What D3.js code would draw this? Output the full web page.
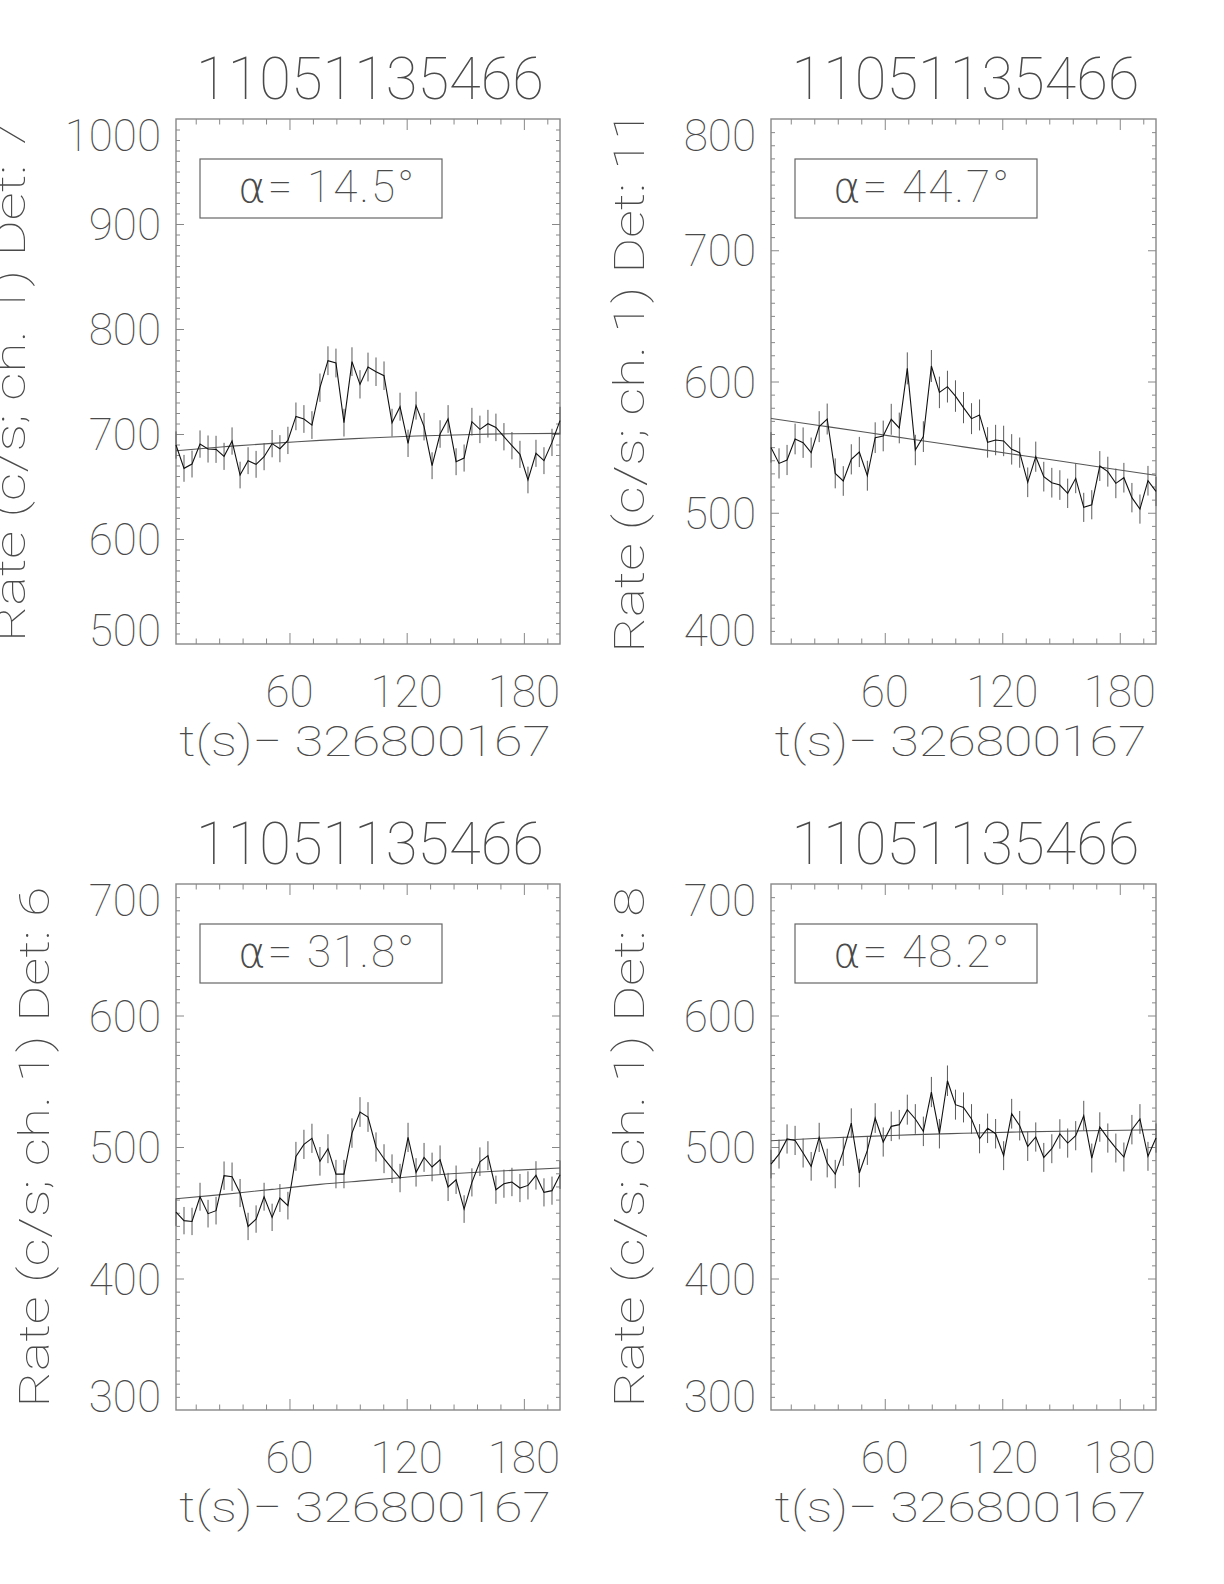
<!DOCTYPE html>
<html>
<head>
<meta charset="utf-8">
<script src="https://cdn.jsdelivr.net/npm/d3@7"></script>
<style>
  html, body { margin: 0; padding: 0; background: #fff; }
  svg { display: block; }
  text { font-family: Roboto, "DejaVu Sans", sans-serif; font-weight: 100; fill: #4a4a4a; }
</style>
</head>
<body>
<script>
// ---------------- DATA ----------------
const titleText = "11051135466";
const xTitleText = "t(s)\u2212 326800167";
const xTickLabels = [60, 120, 180];

// bin times (s), 4.096 s bins
const times = [1.9, 6.0, 10.1, 14.2, 18.3, 22.4, 26.5, 30.6, 34.7, 38.8, 42.9, 47.0, 51.1, 55.1,
  59.2, 63.3, 67.4, 71.5, 75.6, 79.7, 83.8, 87.9, 92.0, 96.1, 100.2, 104.3, 108.4, 112.5, 116.6,
  120.7, 124.8, 128.9, 133.0, 137.1, 141.2, 145.3, 149.4, 153.4, 157.5, 161.6, 165.7, 169.8,
  173.9, 178.0, 182.1, 186.2, 190.3, 194.4, 198.5];
const fitTimes = [1.9, 26.5, 51.1, 75.6, 100.2, 124.8, 149.4, 173.9, 198.5];

// Det 7
const rateDet7 = [689.5, 667.3, 671.4, 690.4, 685.7, 685.4, 678.7, 693.3, 660.9, 674.6, 671.1, 678.4,
  690.8, 686.0, 693.9, 716.8, 714.3, 708.5, 744.1, 769.8, 767.6, 710.8, 768.9, 747.3, 763.8, 759.3,
  755.5, 710.8, 726.0, 691.1, 727.0, 707.0, 669.8, 700.0, 714.3, 673.6, 677.1, 711.7, 704.4, 709.8,
  706.3, 697.4, 688.9, 680.6, 656.2, 681.6, 674.6, 692.0, 712.7];
const errDet7 = [13.0, 12.8, 12.8, 13.0, 12.9, 12.9, 12.9, 13.0, 12.7, 12.8, 12.8, 12.9, 13.0, 12.9,
  13.0, 13.2, 13.2, 13.2, 13.5, 13.7, 13.7, 13.2, 13.7, 13.5, 13.7, 13.6, 13.6, 13.2, 13.3, 13.0,
  13.3, 13.1, 12.8, 13.1, 13.2, 12.8, 12.9, 13.2, 13.1, 13.2, 13.1, 13.0, 13.0, 12.9, 12.7, 12.9,
  12.8, 13.0, 13.2];
const fitDet7 = [684.1, 687.9, 691.1, 693.9, 696.2, 698.1, 699.3, 700.3, 700.6];
const yDomainDet7 = [500, 1000];
const yTicksDet7 = [500, 600, 700, 800, 900, 1000];

// Det 11
const rateDet11 = [549.8, 537.6, 540.2, 556.2, 553.4, 545.8, 565.6, 571.4, 530.0, 524.2, 540.7, 546.3,
  528.2, 557.2, 558.5, 571.2, 564.6, 610.0, 547.8, 558.0, 611.8, 591.7, 596.1, 588.9, 580.1, 571.7,
  574.5, 553.6, 555.4, 554.7, 548.3, 545.8, 523.2, 542.7, 527.5, 522.9, 521.1, 514.8, 526.2, 504.1,
  506.1, 535.6, 531.3, 522.4, 526.7, 511.5, 502.8, 524.4, 516.3];
const errDet11 = [11.6, 11.5, 11.5, 11.7, 11.6, 11.5, 11.8, 11.8, 11.4, 11.3, 11.5, 11.5, 11.4, 11.7,
  11.7, 11.8, 11.7, 12.2, 11.6, 11.7, 12.2, 12.0, 12.1, 12.0, 11.9, 11.8, 11.8, 11.6, 11.6, 11.6,
  11.6, 11.5, 11.3, 11.5, 11.3, 11.3, 11.3, 11.2, 11.3, 11.1, 11.1, 11.4, 11.4, 11.3, 11.3, 11.2,
  11.1, 11.3, 11.2];
const fitDet11 = [571.9, 566.5, 561.1, 555.6, 550.2, 544.8, 539.4, 533.9, 528.5];
const yDomainDet11 = [400, 800];
const yTicksDet11 = [400, 500, 600, 700, 800];

// Det 6
const rateDet6 = [450.5, 444.0, 443.4, 462.2, 449.3, 451.6, 478.2, 477.4, 465.0, 439.6, 445.2, 462.2,
  446.5, 461.2, 455.4, 492.9, 502.0, 506.6, 489.1, 498.7, 479.4, 479.4, 510.6, 526.6, 522.8, 500.0,
  491.1, 483.5, 476.4, 507.3, 480.7, 492.1, 484.8, 490.3, 469.6, 475.1, 452.8, 473.1, 488.8, 493.4,
  467.5, 472.1, 473.4, 468.8, 470.8, 478.4, 465.5, 466.8, 478.9];
const errDet6 = [10.5, 10.4, 10.4, 10.6, 10.5, 10.5, 10.8, 10.8, 10.7, 10.4, 10.4, 10.6, 10.4, 10.6,
  10.5, 11.0, 11.1, 11.1, 10.9, 11.0, 10.8, 10.8, 11.2, 11.3, 11.3, 11.1, 11.0, 10.9, 10.8, 11.1,
  10.8, 11.0, 10.9, 10.9, 10.7, 10.8, 10.5, 10.7, 10.9, 11.0, 10.7, 10.7, 10.8, 10.7, 10.7, 10.8,
  10.7, 10.7, 10.8];
const fitDet6 = [460.7, 464.0, 467.8, 471.6, 474.6, 477.7, 480.2, 482.2, 484.0];
const yDomainDet6 = [300, 700];
const yTicksDet6 = [300, 400, 500, 600, 700];

// Det 8
const rateDet8 = [487.0, 494.6, 506.1, 505.0, 495.4, 485.3, 507.3, 487.8, 479.4, 496.7, 518.2, 480.2,
  497.4, 522.0, 503.8, 515.7, 517.0, 528.4, 521.3, 511.9, 541.8, 510.1, 550.4, 532.2, 530.1, 521.3,
  506.3, 514.2, 510.1, 493.4, 525.3, 516.2, 500.5, 507.6, 492.1, 498.7, 509.9, 503.0, 508.6, 523.8,
  491.6, 515.2, 506.8, 499.2, 492.4, 513.2, 521.3, 492.9, 506.8];
const errDet8 = [10.9, 11.0, 11.1, 11.1, 11.0, 10.9, 11.1, 10.9, 10.8, 11.0, 11.2, 10.8, 11.0, 11.3,
  11.1, 11.2, 11.2, 11.4, 11.3, 11.2, 11.5, 11.2, 11.6, 11.4, 11.4, 11.3, 11.1, 11.2, 11.2, 11.0,
  11.3, 11.2, 11.1, 11.1, 11.0, 11.0, 11.2, 11.1, 11.1, 11.3, 11.0, 11.2, 11.1, 11.0, 11.0, 11.2,
  11.3, 11.0, 11.1];
const fitDet8 = [504.8, 506.6, 508.1, 509.4, 510.4, 511.3, 512.0, 512.6, 513.1];
const yDomainDet8 = [300, 700];
const yTicksDet8 = [300, 400, 500, 600, 700];

const detLabels = ["Rate (c/s; ch. 1) Det: 7", "Rate (c/s; ch. 1) Det: 11",
                   "Rate (c/s; ch. 1) Det: 6", "Rate (c/s; ch. 1) Det: 8"];
const alphaValues = ["14.5", "44.7", "31.8", "48.2"];

// ---------------- LAYOUT ----------------
const frames = [
  {x0: 176, x1: 560, y0: 119, y1: 644},
  {x0: 771, x1: 1156, y0: 119, y1: 644},
  {x0: 176, x1: 560, y0: 884, y1: 1410},
  {x0: 771, x1: 1156, y0: 884, y1: 1410}
];
const panels = [
  {rate: rateDet7, err: errDet7, fit: fitDet7, yDomain: yDomainDet7, yTicks: yTicksDet7},
  {rate: rateDet11, err: errDet11, fit: fitDet11, yDomain: yDomainDet11, yTicks: yTicksDet11},
  {rate: rateDet6, err: errDet6, fit: fitDet6, yDomain: yDomainDet6, yTicks: yTicksDet6},
  {rate: rateDet8, err: errDet8, fit: fitDet8, yDomain: yDomainDet8, yTicks: yTicksDet8}
].map((p, i) => Object.assign(p, {ylabel: detLabels[i], alpha: alphaValues[i], frame: frames[i]}));

const W = 1224, H = 1584;
const svg = d3.select("body").append("svg").attr("width", W).attr("height", H);

const FS_TICK = 44, FS_XT = 43, FS_TITLE = 60, FS_YT = 43;
const frameColor = "#888";

panels.forEach(p => {
  const L = p.frame;
  const x = d3.scaleLinear().domain(d3.extent(times)).range([L.x0, L.x1]);
  const y = d3.scaleLinear().domain(p.yDomain).range([L.y1, L.y0]);
  const g = svg.append("g");

  const xMinor = d3.range(12, 200, 12).filter(t => t > x.domain()[0] && t < x.domain()[1] && !xTickLabels.includes(t));
  const yMinor = d3.range(p.yDomain[0] + 10, p.yDomain[1], 10).filter(v => v % 100 !== 0);
  const yMajor = p.yTicks.filter(v => v > p.yDomain[0] && v < p.yDomain[1]);

  function addAxis(axis, tx, ty) {
    const a = g.append("g").attr("transform", `translate(${tx},${ty})`).call(axis);
    a.select(".domain").remove();
    a.selectAll("line").attr("stroke", frameColor).attr("stroke-width", 1);
    a.selectAll("text").remove();
  }
  // x ticks bottom & top (inward)
  addAxis(d3.axisBottom(x).tickValues(xTickLabels).tickSize(-11).tickSizeOuter(0).tickFormat(""), 0, L.y1);
  addAxis(d3.axisBottom(x).tickValues(xMinor).tickSize(-5.5).tickSizeOuter(0).tickFormat(""), 0, L.y1);
  addAxis(d3.axisTop(x).tickValues(xTickLabels).tickSize(-11).tickSizeOuter(0).tickFormat(""), 0, L.y0);
  addAxis(d3.axisTop(x).tickValues(xMinor).tickSize(-5.5).tickSizeOuter(0).tickFormat(""), 0, L.y0);
  // y ticks left & right (inward)
  addAxis(d3.axisLeft(y).tickValues(yMajor).tickSize(-8).tickSizeOuter(0).tickFormat(""), L.x0, 0);
  addAxis(d3.axisLeft(y).tickValues(yMinor).tickSize(-4).tickSizeOuter(0).tickFormat(""), L.x0, 0);
  addAxis(d3.axisRight(y).tickValues(yMajor).tickSize(-8).tickSizeOuter(0).tickFormat(""), L.x1, 0);
  addAxis(d3.axisRight(y).tickValues(yMinor).tickSize(-4).tickSizeOuter(0).tickFormat(""), L.x1, 0);

  // frame
  g.append("rect").attr("x", L.x0).attr("y", L.y0)
    .attr("width", L.x1 - L.x0).attr("height", L.y1 - L.y0)
    .attr("fill", "none").attr("stroke", frameColor).attr("stroke-width", 1.4);

  // error bars
  g.append("g").selectAll("line").data(times).join("line")
    .attr("x1", (t) => x(t)).attr("x2", (t) => x(t))
    .attr("y1", (t, i) => y(p.rate[i] - p.err[i]))
    .attr("y2", (t, i) => y(p.rate[i] + p.err[i]))
    .attr("stroke", "#5a5a5a").attr("stroke-width", 1);

  // fit curve
  g.append("path")
    .attr("d", d3.line().x((t) => x(t)).y((t, i) => y(p.fit[i])).curve(d3.curveNatural)(fitTimes))
    .attr("fill", "none").attr("stroke", "#555").attr("stroke-width", 1.1);

  // data line
  g.append("path")
    .attr("d", d3.line().x((t) => x(t)).y((t, i) => y(p.rate[i]))(times))
    .attr("fill", "none").attr("stroke", "#111").attr("stroke-width", 1.1);

  // legend box
  g.append("rect").attr("x", L.x0 + 24).attr("y", L.y0 + 40).attr("width", 242).attr("height", 59)
    .attr("fill", "none").attr("stroke", "#666").attr("stroke-width", 1.2);
  const lt = g.append("text").attr("x", L.x0 + 62).attr("y", L.y0 + 83)
    .attr("font-size", FS_TICK).attr("textLength", 176).attr("lengthAdjust", "spacing");
  lt.append("tspan").attr("font-family", "'DejaVu Sans', sans-serif")
    .attr("font-weight", 200).attr("font-size", 42).text("\u03b1");
  lt.append("tspan").text("=  " + p.alpha + "\u00b0");

  // y tick labels
  let maxW = 0;
  p.yTicks.forEach(v => {
    const ty = y(v);
    const base = Math.max(L.y0 + 32, Math.min(L.y1 + 2, ty + 16));
    const t = g.append("text").attr("x", L.x0 - 15).attr("y", base)
      .attr("text-anchor", "end").attr("font-size", FS_TICK).text(v);
    maxW = Math.max(maxW, t.node().getComputedTextLength());
  });

  // x tick labels
  xTickLabels.forEach(v => {
    g.append("text").attr("x", x(v)).attr("y", L.y1 + 63)
      .attr("text-anchor", "middle").attr("font-size", FS_TICK).text(v);
  });

  // x title
  const cx = (L.x0 + L.x1) / 2;
  g.append("text").attr("x", cx - 3).attr("y", L.y1 + 112).attr("text-anchor", "middle")
    .attr("font-size", FS_XT).attr("textLength", 372).attr("lengthAdjust", "spacingAndGlyphs")
    .text(xTitleText);

  // panel title
  g.append("text").attr("x", cx + 2).attr("y", L.y0 - 20).attr("text-anchor", "middle")
    .attr("font-size", FS_TITLE).attr("textLength", 348).attr("lengthAdjust", "spacingAndGlyphs")
    .text(titleText);

  // y title
  const bx = L.x0 - 15 - maxW - 40;
  const cy = (L.y0 + L.y1) / 2;
  g.append("text").attr("transform", `translate(${bx},${cy}) rotate(-90)`)
    .attr("text-anchor", "middle").attr("font-size", FS_YT)
    .attr("textLength", p.ylabel.length * 21.7).attr("lengthAdjust", "spacingAndGlyphs")
    .text(p.ylabel);
});
</script>
</body>
</html>
